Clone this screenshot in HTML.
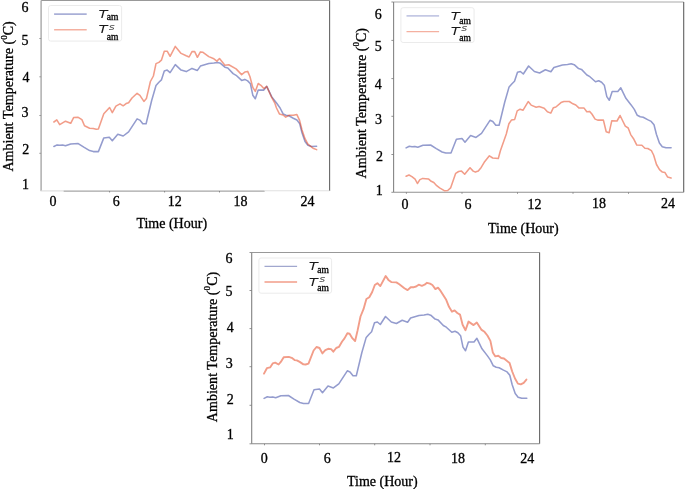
<!DOCTYPE html>
<html lang="en">
<head>
<meta charset="utf-8">
<title>Ambient Temperature vs Time</title>
<style>
html, body { margin: 0; padding: 0; background: #fff; }
body { width: 685px; height: 489px; overflow: hidden; }
svg { display: block; }
svg text { font-family: "Liberation Serif", serif; fill: #000; stroke: #000; stroke-width: 0.3px; }
svg text.m { font-family: "DejaVu Sans", sans-serif; font-style: italic; fill: #1a1a1a; stroke: none; }
</style>
</head>
<body>
<svg width="685" height="489" viewBox="0 0 685 489">
<rect x="0" y="0" width="685" height="489" fill="#fff"/>
<line x1="41.1" y1="0.5" x2="329.6" y2="0.5" stroke="#999" stroke-width="1.2"/>
<line x1="41.1" y1="0.5" x2="41.1" y2="191.0" stroke="#a8a8a8" stroke-width="1.4"/>
<line x1="329.6" y1="0.5" x2="329.6" y2="191.0" stroke="#666" stroke-width="1.1"/>
<line x1="40.4" y1="190.9" x2="63.6" y2="190.9" stroke="#dcdcdc" stroke-width="1.1"/>
<line x1="63.6" y1="191.1" x2="264.7" y2="191.1" stroke="#a6a6a6" stroke-width="1.1"/>
<line x1="264.7" y1="190.7" x2="329.6" y2="190.7" stroke="#e0e0e0" stroke-width="1.1"/>
<line x1="39.3" y1="38.5" x2="41.1" y2="38.5" stroke="#8a8a8a" stroke-width="0.8"/>
<line x1="39.3" y1="76.8" x2="41.1" y2="76.8" stroke="#8a8a8a" stroke-width="0.8"/>
<line x1="39.3" y1="115.5" x2="41.1" y2="115.5" stroke="#8a8a8a" stroke-width="0.8"/>
<line x1="39.3" y1="153.3" x2="41.1" y2="153.3" stroke="#8a8a8a" stroke-width="0.8"/>
<line x1="109.6" y1="191.0" x2="109.6" y2="192.5" stroke="#777" stroke-width="0.8"/>
<line x1="164.6" y1="191.0" x2="164.6" y2="192.5" stroke="#777" stroke-width="0.8"/>
<line x1="219.5" y1="191.0" x2="219.5" y2="192.5" stroke="#777" stroke-width="0.8"/>
<rect x="48.5" y="5.5" width="73.1" height="35.6" rx="2.2" fill="#fff" stroke="#e9e9e9" stroke-width="0.9"/>
<line x1="54.1" y1="14.1" x2="86.7" y2="14.1" stroke="#949cce" stroke-width="1.6" opacity="0.8"/>
<line x1="54.1" y1="29.7" x2="86.7" y2="29.7" stroke="#f29d89" stroke-width="1.6" opacity="0.8"/>
<text transform="translate(98.4,18.1) scale(1.35,1)" class="m" font-size="11">T</text>
<text x="106.8" y="20.2" font-size="9.5" text-anchor="start" >am</text>
<text transform="translate(98.4,33.1) scale(1.35,1)" class="m" font-size="11">T</text>
<text transform="translate(108.8,29.5) scale(1.35,1)" class="m" font-size="8.5" style="fill:#4a4a4a">s</text>
<text x="106.8" y="39.9" font-size="9.5" text-anchor="start" >am</text>
<polyline points="53.9,146.5 57.1,144.9 59.7,145.3 62.6,145.0 65.5,145.8 70.7,143.9 78.2,143.6 83.8,147.2 89.6,150.6 93.3,151.6 98.4,151.6 103.8,137.9 109.3,137.2 112.3,140.8 117.8,134.2 123.2,136.0 128.6,131.9 137.1,118.9 139.8,120.1 142.8,123.8 146.1,123.8 151.6,100.8 156.0,85.5 158.9,82.3 161.4,79.9 164.3,70.9 167.2,70.1 170.1,72.6 175.3,64.6 181.1,70.1 186.2,71.6 192.0,68.4 197.4,70.4 200.4,66.1 208.8,63.6 213.9,63.1 217.6,62.4 220.5,63.3 224.9,67.2 227.8,68.0 233.1,73.6 236.1,75.3 241.6,80.4 244.8,79.4 247.7,80.9 250.4,83.8 252.8,95.2 255.3,98.8 258.2,90.1 263.8,90.1 266.7,86.4 271.8,96.9 276.9,103.5 280.1,108.0 283.1,113.9 286.0,115.3 288.9,115.8 293.3,118.2 296.9,120.0 299.6,123.4 302.0,132.8 305.0,141.6 307.9,145.3 311.5,146.4 316.6,146.3" fill="none" stroke="#949cce" stroke-width="1.55" stroke-linejoin="round" stroke-linecap="round"/>
<polyline points="53.9,122.0 56.8,119.9 59.7,124.6 65.5,121.2 70.7,123.3 73.6,117.6 78.2,117.3 81.9,119.6 84.5,125.8 89.6,128.2 93.3,128.5 96.2,129.3 98.4,129.0 103.8,113.8 109.6,107.5 112.3,112.6 115.9,106.1 120.0,103.9 123.2,105.8 126.1,103.6 128.6,102.7 132.0,98.0 137.1,93.3 139.9,95.3 143.9,101.4 146.4,98.6 150.4,81.5 153.4,76.0 156.0,63.6 158.9,62.4 161.4,60.2 164.3,51.2 167.2,51.2 170.1,56.3 175.3,46.4 181.1,53.4 186.2,55.8 189.1,57.0 192.0,51.6 194.7,51.6 197.4,57.3 200.4,51.9 203.0,52.3 208.8,56.6 213.9,58.8 216.9,61.1 219.5,58.5 224.9,65.3 228.8,64.8 236.1,68.9 241.6,74.6 244.8,72.1 247.7,71.4 249.9,76.5 252.8,87.4 255.3,91.4 258.2,83.5 260.9,85.3 263.8,88.6 266.7,86.4 271.8,97.7 274.7,102.8 276.5,108.0 279.4,113.9 283.1,115.0 285.7,117.2 288.9,115.3 293.3,115.3 296.9,114.6 299.6,120.4 302.0,129.9 305.0,138.7 307.9,144.2 313.0,148.2 316.6,149.6" fill="none" stroke="#e53b13" stroke-width="1.55" stroke-linejoin="round" stroke-linecap="round" stroke-opacity="0.5"/>
<text x="24.9" y="11.9" font-size="14" text-anchor="middle" >6</text>
<text x="24.9" y="44.7" font-size="14" text-anchor="middle" >5</text>
<text x="25.9" y="82.2" font-size="14" text-anchor="middle" >4</text>
<text x="24.9" y="116.9" font-size="14" text-anchor="middle" >3</text>
<text x="25.7" y="153.6" font-size="14" text-anchor="middle" >2</text>
<text x="25.5" y="188.7" font-size="14" text-anchor="middle" >1</text>
<text x="53.1" y="205.9" font-size="14" text-anchor="middle" >0</text>
<text x="116.2" y="205.9" font-size="14" text-anchor="middle" >6</text>
<text x="174.7" y="205.9" font-size="14" text-anchor="middle" >12</text>
<text x="240.6" y="205.9" font-size="14" text-anchor="middle" >18</text>
<text x="307.5" y="205.9" font-size="14" text-anchor="middle" >24</text>
<text x="136.4" y="228.1" font-size="14" text-anchor="start" >Time (Hour)</text>
<text transform="translate(13.3,171.6) rotate(-90)" font-size="14" letter-spacing="0.04">Ambient Temperature (<tspan font-size="9" dy="-6.5">0</tspan><tspan dy="6.5">C)</tspan></text>
<line x1="393.6" y1="2.0" x2="683.7" y2="2.0" stroke="#aaa" stroke-width="1.2"/>
<line x1="393.6" y1="2.0" x2="393.6" y2="192.3" stroke="#858585" stroke-width="1.1"/>
<line x1="683.7" y1="2.0" x2="683.7" y2="192.3" stroke="#606060" stroke-width="1.1"/>
<line x1="393.6" y1="192.3" x2="683.7" y2="192.3" stroke="#909090" stroke-width="1.1"/>
<line x1="391.4" y1="40.4" x2="393.6" y2="40.4" stroke="#777" stroke-width="0.8"/>
<line x1="391.4" y1="78.6" x2="393.6" y2="78.6" stroke="#777" stroke-width="0.8"/>
<line x1="391.4" y1="116.3" x2="393.6" y2="116.3" stroke="#777" stroke-width="0.8"/>
<line x1="391.4" y1="154.5" x2="393.6" y2="154.5" stroke="#777" stroke-width="0.8"/>
<line x1="391.4" y1="2.0" x2="393.6" y2="2.0" stroke="#777" stroke-width="0.8"/>
<line x1="391.4" y1="192.3" x2="393.6" y2="192.3" stroke="#777" stroke-width="0.8"/>
<line x1="406.4" y1="192.3" x2="406.4" y2="193.8" stroke="#777" stroke-width="0.8"/>
<line x1="462.0" y1="192.3" x2="462.0" y2="193.8" stroke="#777" stroke-width="0.8"/>
<line x1="517.5" y1="192.3" x2="517.5" y2="193.8" stroke="#777" stroke-width="0.8"/>
<line x1="573.0" y1="192.3" x2="573.0" y2="193.8" stroke="#777" stroke-width="0.8"/>
<line x1="628.5" y1="192.3" x2="628.5" y2="193.8" stroke="#777" stroke-width="0.8"/>
<rect x="400.9" y="7.7" width="73.2" height="34.8" rx="2.2" fill="#fff" stroke="#e9e9e9" stroke-width="0.9"/>
<line x1="406.5" y1="15.8" x2="439.1" y2="15.8" stroke="#949cce" stroke-width="1.7" opacity="0.55"/>
<line x1="406.5" y1="31.6" x2="439.1" y2="31.6" stroke="#f29d89" stroke-width="1.2" opacity="0.8"/>
<text transform="translate(450.8,19.6) scale(1.35,1)" class="m" font-size="11">T</text>
<text x="459.2" y="24.2" font-size="9.5" text-anchor="start" >am</text>
<text transform="translate(450.8,34.9) scale(1.35,1)" class="m" font-size="11">T</text>
<text transform="translate(461.2,31.3) scale(1.35,1)" class="m" font-size="8.5" style="fill:#4a4a4a">s</text>
<text x="459.2" y="41.3" font-size="9.5" text-anchor="start" >am</text>
<polyline points="406.1,147.9 409.3,146.3 412.0,146.7 414.9,146.4 417.8,147.2 423.0,145.3 430.6,145.0 436.3,148.6 442.1,152.0 445.8,153.0 451.0,153.0 456.4,139.3 462.0,138.6 465.0,142.2 470.6,135.6 476.0,137.4 481.5,133.3 490.0,120.3 492.8,121.5 495.8,125.2 499.1,125.2 504.7,102.2 509.1,86.9 512.0,83.7 514.5,81.3 517.5,72.3 520.4,71.5 523.3,74.0 528.6,66.0 534.4,71.5 539.6,73.0 545.4,69.8 550.9,71.8 553.9,67.5 562.4,65.0 567.5,64.5 571.2,63.8 574.2,64.7 578.6,68.6 581.5,69.4 586.9,75.0 589.9,76.7 595.5,81.8 598.7,80.8 601.6,82.3 604.3,85.2 606.8,96.6 609.3,100.2 612.2,91.5 617.8,91.5 620.8,87.8 625.9,98.3 631.1,104.9 634.3,109.4 637.3,115.3 640.2,116.7 643.2,117.2 647.6,119.6 651.2,121.4 654.0,124.8 656.4,134.2 659.4,143.0 662.3,146.7 666.0,147.8 671.1,147.7" fill="none" stroke="#949cce" stroke-width="1.55" stroke-linejoin="round" stroke-linecap="round"/>
<polyline points="406.1,176.2 409.0,175.0 411.9,176.6 415.1,179.1 417.4,183.5 419.9,179.6 422.8,178.4 428.7,179.1 431.2,181.3 433.8,182.5 436.7,185.7 439.6,187.9 444.7,190.8 447.7,190.5 450.6,187.9 455.7,173.3 458.6,171.5 461.5,171.1 464.7,174.3 470.0,167.7 473.2,171.1 475.4,172.1 478.3,171.1 481.2,167.4 484.2,162.3 489.4,155.8 492.7,158.0 498.3,158.5 500.4,150.8 506.3,134.0 508.9,123.8 511.4,120.1 514.7,119.4 517.2,110.9 520.1,109.2 523.1,110.2 528.2,101.6 531.1,105.1 536.2,107.3 539.1,106.6 544.2,108.2 547.4,111.8 550.8,113.1 553.4,107.7 555.9,107.0 561.0,102.6 563.9,101.6 569.3,101.5 572.9,103.8 575.8,105.0 578.8,107.9 583.9,107.9 586.8,111.8 589.7,111.4 591.9,114.0 595.1,119.1 597.7,120.1 603.4,120.1 606.2,131.7 609.1,132.8 611.8,120.7 617.0,121.0 620.1,115.5 623.0,121.5 625.3,126.2 628.2,128.0 630.7,134.6 633.9,139.3 636.8,145.1 641.9,145.3 644.9,148.2 647.8,148.5 651.4,150.7 653.6,155.0 656.5,164.5 659.5,169.6 662.4,172.1 665.0,172.6 667.5,176.9 671.1,178.0" fill="none" stroke="#f29d89" stroke-width="1.55" stroke-linejoin="round" stroke-linecap="round"/>
<text x="378.2" y="18.7" font-size="14" text-anchor="middle" >6</text>
<text x="378.2" y="50.7" font-size="14" text-anchor="middle" >5</text>
<text x="378.2" y="88.5" font-size="14" text-anchor="middle" >4</text>
<text x="378.6" y="123.8" font-size="14" text-anchor="middle" >3</text>
<text x="379.6" y="160.8" font-size="14" text-anchor="middle" >2</text>
<text x="379.2" y="194.9" font-size="14" text-anchor="middle" >1</text>
<text x="404.9" y="209.2" font-size="14" text-anchor="middle" >0</text>
<text x="468" y="209.4" font-size="14" text-anchor="middle" >6</text>
<text x="534.4" y="208.5" font-size="14" text-anchor="middle" >12</text>
<text x="598.9" y="208.3" font-size="14" text-anchor="middle" >18</text>
<text x="668" y="208.3" font-size="14" text-anchor="middle" >24</text>
<text x="488" y="232.5" font-size="14" text-anchor="start" >Time (Hour)</text>
<text transform="translate(365.8,178.4) rotate(-90)" font-size="14" letter-spacing="0.04">Ambient Temperature (<tspan font-size="9" dy="-6.5">0</tspan><tspan dy="6.5">C)</tspan></text>
<line x1="251.7" y1="252.5" x2="539.6" y2="252.5" stroke="#999" stroke-width="1.2"/>
<line x1="251.7" y1="252.5" x2="251.7" y2="443.8" stroke="#808080" stroke-width="1.1"/>
<line x1="539.6" y1="252.5" x2="539.6" y2="443.8" stroke="#666" stroke-width="1.1"/>
<line x1="251.7" y1="443.8" x2="539.6" y2="443.8" stroke="#888" stroke-width="1.1"/>
<line x1="249.5" y1="290.5" x2="251.7" y2="290.5" stroke="#777" stroke-width="0.8"/>
<line x1="249.5" y1="328.6" x2="251.7" y2="328.6" stroke="#777" stroke-width="0.8"/>
<line x1="249.5" y1="366.7" x2="251.7" y2="366.7" stroke="#777" stroke-width="0.8"/>
<line x1="249.5" y1="405.3" x2="251.7" y2="405.3" stroke="#777" stroke-width="0.8"/>
<line x1="249.5" y1="252.5" x2="251.7" y2="252.5" stroke="#777" stroke-width="0.8"/>
<line x1="249.5" y1="443.8" x2="251.7" y2="443.8" stroke="#777" stroke-width="0.8"/>
<line x1="264.5" y1="443.8" x2="264.5" y2="445.3" stroke="#777" stroke-width="0.8"/>
<line x1="319.5" y1="443.8" x2="319.5" y2="445.3" stroke="#777" stroke-width="0.8"/>
<line x1="374.7" y1="443.8" x2="374.7" y2="445.3" stroke="#777" stroke-width="0.8"/>
<line x1="430.0" y1="443.8" x2="430.0" y2="445.3" stroke="#777" stroke-width="0.8"/>
<line x1="485.3" y1="443.8" x2="485.3" y2="445.3" stroke="#777" stroke-width="0.8"/>
<rect x="258.9" y="258.0" width="72.7" height="35.2" rx="2.2" fill="#fff" stroke="#e9e9e9" stroke-width="0.9"/>
<line x1="264.5" y1="266.3" x2="297.1" y2="266.3" stroke="#7d84bb" stroke-width="0.9" opacity="1"/>
<line x1="264.5" y1="282.1" x2="297.1" y2="282.1" stroke="#f29d89" stroke-width="2.0" opacity="0.75"/>
<text transform="translate(308.8,269.9) scale(1.35,1)" class="m" font-size="11">T</text>
<text x="317.2" y="272.7" font-size="9.5" text-anchor="start" >am</text>
<text transform="translate(308.8,285.8) scale(1.35,1)" class="m" font-size="11">T</text>
<text transform="translate(319.2,281.6) scale(1.35,1)" class="m" font-size="8.5" style="fill:#4a4a4a">s</text>
<text x="317.2" y="290.7" font-size="9.5" text-anchor="start" >am</text>
<polyline points="264.1,398.4 267.3,396.8 269.9,397.2 272.8,396.9 275.7,397.7 280.9,395.8 288.4,395.5 294.0,399.1 299.8,402.5 303.5,403.5 308.6,403.5 314.0,389.8 319.5,389.1 322.5,392.7 328.0,386.1 333.4,387.9 338.8,383.8 347.3,370.8 350.0,372.0 353.0,375.7 356.3,375.7 361.8,352.7 366.2,337.4 369.1,334.2 371.6,331.8 374.5,322.8 377.4,322.0 380.3,324.5 385.5,316.5 391.3,322.0 396.4,323.5 402.2,320.3 407.6,322.3 410.6,318.0 419.0,315.5 424.1,315.0 427.8,314.3 430.7,315.2 435.1,319.1 438.0,319.9 443.3,325.5 446.3,327.2 451.8,332.3 455.0,331.3 457.9,332.8 460.6,335.7 463.0,347.1 465.5,350.7 468.4,342.0 474.0,342.0 476.9,338.3 482.0,348.8 487.1,355.4 490.3,359.9 493.3,365.8 496.2,367.2 499.1,367.7 503.5,370.1 507.1,371.9 509.8,375.3 512.2,384.7 515.2,393.5 518.1,397.2 521.7,398.3 526.8,398.2" fill="none" stroke="#949cce" stroke-width="1.55" stroke-linejoin="round" stroke-linecap="round"/>
<polyline points="264.0,373.6 266.9,368.2 270.1,367.4 272.7,363.4 275.2,362.6 278.6,364.5 280.8,361.9 283.7,357.2 288.8,356.9 291.7,357.8 294.6,360.1 296.8,360.4 299.7,361.9 303.4,364.4 305.6,364.5 308.5,363.6 313.6,350.5 316.5,347.0 319.5,348.0 322.4,353.4 325.3,350.2 328.2,348.8 331.1,349.1 333.3,351.7 336.2,348.0 338.9,346.9 342.1,341.5 344.5,338.4 347.4,333.3 349.6,333.7 352.5,338.4 355.1,341.0 357.6,330.4 360.5,316.5 363.5,309.2 366.4,299.0 369.3,297.2 372.2,292.0 374.8,285.0 377.4,283.2 380.3,286.1 385.7,276.0 388.4,279.9 391.3,282.1 396.4,282.4 399.3,284.3 404.4,288.2 407.6,290.1 410.7,287.2 413.9,287.2 416.1,286.5 418.7,284.7 421.9,285.8 424.6,284.7 427.0,282.8 430.0,283.6 432.4,285.0 435.4,289.1 438.0,287.7 440.6,290.9 446.2,299.8 449.0,306.8 452.0,311.7 454.6,310.4 457.3,313.0 460.0,314.6 462.6,324.8 465.5,330.2 468.5,321.6 473.6,325.1 476.8,322.6 481.6,329.9 484.5,331.8 487.4,335.5 490.4,340.9 492.8,352.4 495.4,356.4 498.3,355.8 501.2,358.0 504.0,358.5 509.6,363.1 512.2,371.5 515.0,378.5 517.9,383.6 520.8,384.3 523.7,382.8 526.4,379.6" fill="none" stroke="#f29d89" stroke-width="1.9" stroke-linejoin="round" stroke-linecap="round"/>
<text x="229.0" y="262.5" font-size="14" text-anchor="middle" >6</text>
<text x="229.0" y="296" font-size="14" text-anchor="middle" >5</text>
<text x="230.3" y="332.3" font-size="14" text-anchor="middle" >4</text>
<text x="229.3" y="367.6" font-size="14" text-anchor="middle" >3</text>
<text x="230.3" y="403.7" font-size="14" text-anchor="middle" >2</text>
<text x="230.3" y="439.4" font-size="14" text-anchor="middle" >1</text>
<text x="264.2" y="462.6" font-size="14" text-anchor="middle" >0</text>
<text x="327.3" y="462.6" font-size="14" text-anchor="middle" >6</text>
<text x="394" y="461.9" font-size="14" text-anchor="middle" >12</text>
<text x="458" y="462.6" font-size="14" text-anchor="middle" >18</text>
<text x="527.2" y="462.6" font-size="14" text-anchor="middle" >24</text>
<text x="347.0" y="486.1" font-size="14" text-anchor="start" >Time (Hour)</text>
<text transform="translate(216.6,422.2) rotate(-90)" font-size="14" letter-spacing="0.04">Ambient Temperature (<tspan font-size="9" dy="-6.5">0</tspan><tspan dy="6.5">C)</tspan></text>
</svg>
</body>
</html>
